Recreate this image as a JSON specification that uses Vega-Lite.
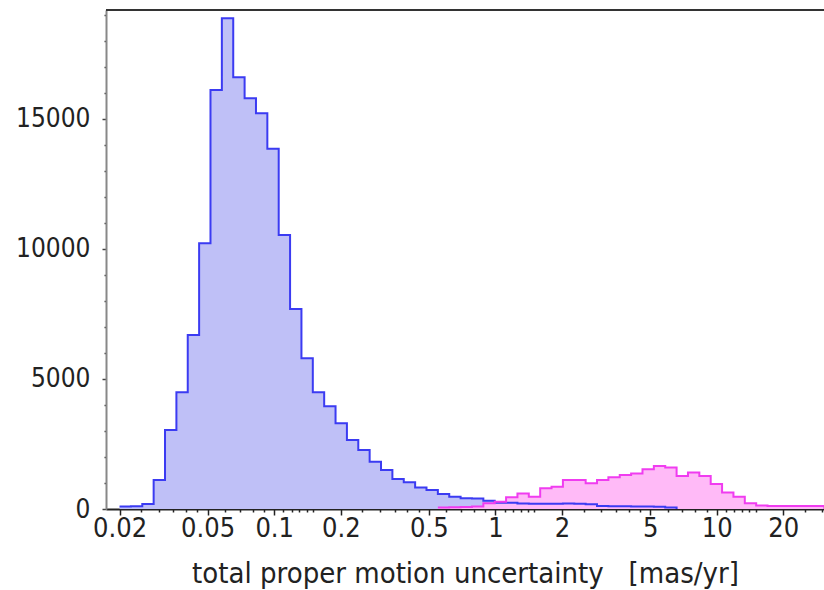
{
  "$schema": "https://vega.github.io/schema/vega-lite/v6.json",
  "width": 718,
  "height": 499,
  "autosize": {"type": "none"},
  "padding": {"left": 106, "top": 10, "right": 0, "bottom": 81},
  "background": "white",
  "config": {
    "view": {"stroke": null},
    "font": "DejaVu Sans Condensed",
    "axis": {"labelFont": "DejaVu Sans Condensed", "titleFont": "DejaVu Sans Condensed", "grid": false, "labelOverlap": false}
  },
  "datasets": {
    "hist": [
      {"s": "catalog", "lo": 0.02000, "n": 100},
      {"s": "catalog", "lo": 0.02251, "n": 110},
      {"s": "catalog", "lo": 0.02534, "n": 190},
      {"s": "catalog", "lo": 0.02852, "n": 1115},
      {"s": "catalog", "lo": 0.03210, "n": 3040},
      {"s": "catalog", "lo": 0.03614, "n": 4490},
      {"s": "catalog", "lo": 0.04067, "n": 6690},
      {"s": "catalog", "lo": 0.04578, "n": 10220},
      {"s": "catalog", "lo": 0.05153, "n": 16115},
      {"s": "catalog", "lo": 0.05800, "n": 18870},
      {"s": "catalog", "lo": 0.06529, "n": 16600},
      {"s": "catalog", "lo": 0.07349, "n": 15800},
      {"s": "catalog", "lo": 0.08272, "n": 15220},
      {"s": "catalog", "lo": 0.09311, "n": 13850},
      {"s": "catalog", "lo": 0.10480, "n": 10540},
      {"s": "catalog", "lo": 0.11796, "n": 7690},
      {"s": "catalog", "lo": 0.13278, "n": 5800},
      {"s": "catalog", "lo": 0.14945, "n": 4490},
      {"s": "catalog", "lo": 0.16822, "n": 3950},
      {"s": "catalog", "lo": 0.18935, "n": 3300},
      {"s": "catalog", "lo": 0.21313, "n": 2650},
      {"s": "catalog", "lo": 0.23990, "n": 2270},
      {"s": "catalog", "lo": 0.27002, "n": 1820},
      {"s": "catalog", "lo": 0.30394, "n": 1500},
      {"s": "catalog", "lo": 0.34211, "n": 1150},
      {"s": "catalog", "lo": 0.38507, "n": 1030},
      {"s": "catalog", "lo": 0.43343, "n": 830},
      {"s": "catalog", "lo": 0.48787, "n": 730},
      {"s": "catalog", "lo": 0.54914, "n": 580},
      {"s": "catalog", "lo": 0.61810, "n": 475},
      {"s": "catalog", "lo": 0.69573, "n": 410},
      {"s": "catalog", "lo": 0.78311, "n": 400},
      {"s": "catalog", "lo": 0.88146, "n": 320},
      {"s": "catalog", "lo": 0.99216, "n": 245},
      {"s": "catalog", "lo": 1.11677, "n": 240},
      {"s": "catalog", "lo": 1.25702, "n": 210},
      {"s": "catalog", "lo": 1.41489, "n": 200},
      {"s": "catalog", "lo": 1.59259, "n": 200},
      {"s": "catalog", "lo": 1.79260, "n": 200},
      {"s": "catalog", "lo": 2.01773, "n": 210},
      {"s": "catalog", "lo": 2.27113, "n": 200},
      {"s": "catalog", "lo": 2.55636, "n": 180},
      {"s": "catalog", "lo": 2.87741, "n": 120},
      {"s": "catalog", "lo": 3.23878, "n": 110},
      {"s": "catalog", "lo": 3.64554, "n": 110},
      {"s": "catalog", "lo": 4.10338, "n": 100},
      {"s": "catalog", "lo": 4.61872, "n": 100},
      {"s": "catalog", "lo": 5.19879, "n": 90},
      {"s": "catalog", "lo": 5.85171, "n": 60},
      {"s": "catalog", "lo": 6.58662, "n": 0},

      {"s": "faint", "lo": 0.54914, "n": 60},
      {"s": "faint", "lo": 0.61810, "n": 70},
      {"s": "faint", "lo": 0.69573, "n": 80},
      {"s": "faint", "lo": 0.78311, "n": 100},
      {"s": "faint", "lo": 0.88146, "n": 220},
      {"s": "faint", "lo": 0.99216, "n": 280},
      {"s": "faint", "lo": 1.11677, "n": 450},
      {"s": "faint", "lo": 1.25702, "n": 600},
      {"s": "faint", "lo": 1.41489, "n": 475},
      {"s": "faint", "lo": 1.59259, "n": 800},
      {"s": "faint", "lo": 1.79260, "n": 860},
      {"s": "faint", "lo": 2.01773, "n": 1120},
      {"s": "faint", "lo": 2.27113, "n": 1120},
      {"s": "faint", "lo": 2.55636, "n": 990},
      {"s": "faint", "lo": 2.87741, "n": 1120},
      {"s": "faint", "lo": 3.23878, "n": 1220},
      {"s": "faint", "lo": 3.64554, "n": 1310},
      {"s": "faint", "lo": 4.10338, "n": 1370},
      {"s": "faint", "lo": 4.61872, "n": 1530},
      {"s": "faint", "lo": 5.19879, "n": 1650},
      {"s": "faint", "lo": 5.85171, "n": 1600},
      {"s": "faint", "lo": 6.58662, "n": 1270},
      {"s": "faint", "lo": 7.41384, "n": 1400},
      {"s": "faint", "lo": 8.34494, "n": 1270},
      {"s": "faint", "lo": 9.39298, "n": 960},
      {"s": "faint", "lo": 10.57265, "n": 630},
      {"s": "faint", "lo": 11.90047, "n": 470},
      {"s": "faint", "lo": 13.39505, "n": 220},
      {"s": "faint", "lo": 15.07733, "n": 130},
      {"s": "faint", "lo": 16.97089, "n": 120},
      {"s": "faint", "lo": 19.10227, "n": 120},
      {"s": "faint", "lo": 21.50132, "n": 120},
      {"s": "faint", "lo": 24.20167, "n": 120},
      {"s": "faint", "lo": 27.24116, "n": 120},
      {"s": "faint", "lo": 30.66236, "n": 0}
    ]
  },
  "data": {"name": "hist"},
  "layer": [
    {
      "mark": {"type": "area", "interpolate": "step-after", "clip": true},
      "encoding": {
        "x": {
          "field": "lo",
          "type": "quantitative",
          "scale": {"type": "log", "domain": [0.01737, 30.54], "nice": false},
          "axis": {
            "title": "total proper motion uncertainty\u00a0\u00a0\u00a0[mas/yr]",
            "titleFontSize": 29,
            "titleFontWeight": "normal",
            "titleColor": "#222222",
            "titlePadding": 18,
            "tickCount": 200,
            "values": [0.02, 0.025, 0.03, 0.035, 0.04, 0.045, 0.05, 0.06, 0.07, 0.08, 0.09, 0.1, 0.11, 0.12, 0.13, 0.14, 0.15, 0.2, 0.25, 0.3, 0.35, 0.4, 0.45, 0.5, 0.6, 0.7, 0.8, 0.9, 1, 1.1, 1.2, 1.3, 1.4, 1.5, 2, 2.5, 3, 3.5, 4, 4.5, 5, 6, 7, 8, 9, 10, 11, 12, 13, 14, 15, 20, 25, 30],
            "format": "~g",
            "labelExpr": "indexof([0.02, 0.05, 0.1, 0.2, 0.5, 1, 2, 5, 10, 20], datum.value) >= 0 ? datum.label : ''",
            "labelOverlap": false,
            "labelBound": false,
            "labelFontSize": 27,
            "labelColor": "#222222",
            "labelPadding": 0,
            "domainColor": "#222222",
            "domainWidth": 2,
            "tickColor": "#222222",
            "tickWidth": 1.5,
            "tickSize": {"condition": {"test": "indexof([0.02, 0.05, 0.1, 0.2, 0.5, 1, 2, 5, 10, 20], datum.value) >= 0", "value": 6}, "value": 3}
          }
        },
        "y": {
          "field": "n",
          "type": "quantitative",
          "stack": null,
          "scale": {"domain": [0, 19190], "nice": false},
          "axis": {
            "title": null,
            "tickCount": 200,
            "values": [0, 1000, 2000, 3000, 4000, 5000, 6000, 7000, 8000, 9000, 10000, 11000, 12000, 13000, 14000, 15000, 16000, 17000, 18000, 19000],
            "format": "d",
            "labelExpr": "datum.value % 5000 == 0 ? datum.label : ''",
            "labelOverlap": false,
            "labelFontSize": 26,
            "labelColor": "#222222",
            "labelPadding": 12,
            "domainColor": "#888888",
            "domainWidth": 2,
            "tickColor": "#444444",
            "tickWidth": 1.5,
            "tickSize": {"condition": {"test": "datum.value % 5000 == 0", "value": 4}, "value": 2}
          }
        },
        "color": {"field": "s", "type": "nominal", "scale": {"domain": ["catalog", "faint"], "range": ["#bfc0f7", "#ffbaf7"]}, "legend": null}
      }
    },
    {
      "mark": {"type": "line", "interpolate": "step-after", "clip": true, "strokeWidth": 2},
      "encoding": {
        "x": {"field": "lo", "type": "quantitative"},
        "y": {"field": "n", "type": "quantitative", "stack": null},
        "color": {"field": "s", "type": "nominal", "scale": {"domain": ["faint", "catalog"], "range": ["#f03cf0", "#3b3bf2"]}, "legend": null},
        "order": {"field": "lo", "type": "quantitative"}
      }
    },
    {
      "data": {"values": [{"top": 19190}]},
      "mark": {"type": "rule", "color": "#333333", "strokeWidth": 2},
      "encoding": {"y": {"field": "top", "type": "quantitative"}}
    }
  ],
  "resolve": {"scale": {"color": "independent"}}
}
